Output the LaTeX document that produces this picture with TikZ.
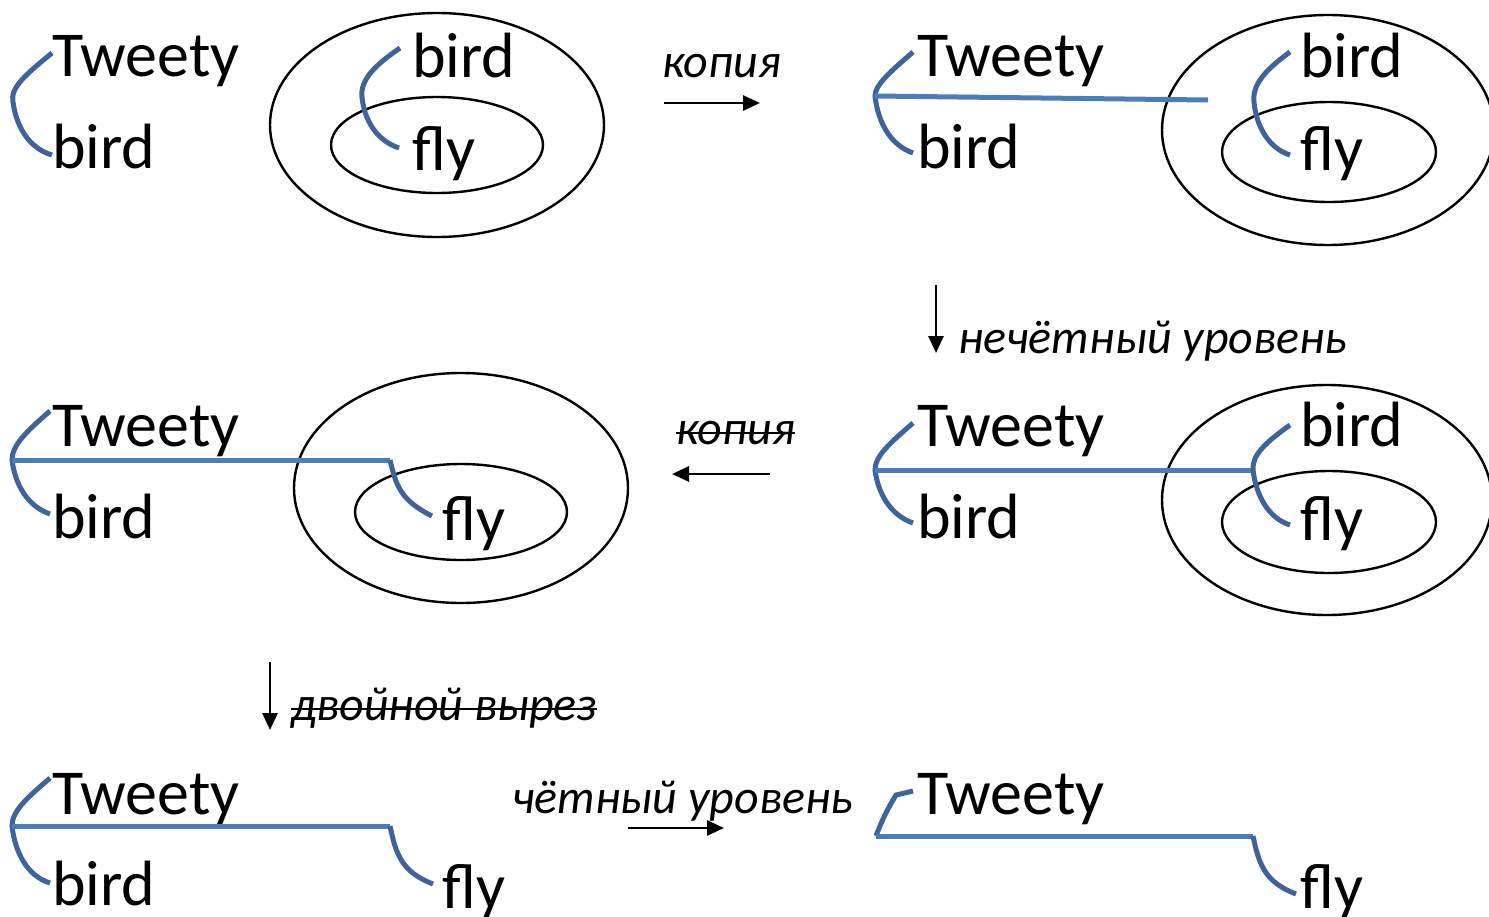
\documentclass[tikz,border=0pt]{standalone}
\usepackage{fontspec}
\setmainfont{Carlito}
\usetikzlibrary{arrows.meta}
\definecolor{hookc}{RGB}{62,100,154}
\definecolor{linec}{RGB}{74,126,187}
\tikzset{
  lbl/.style={anchor=base west,inner sep=0pt,font=\fontsize{64}{64}\selectfont},
  captxt/.style={anchor=base west,inner sep=0pt,font=\fontsize{48}{48}\selectfont\itshape},
  hook/.style={draw=hookc,line width=5pt},
  bar/.style={draw=linec,line width=5pt},
  ell/.style={draw=black,line width=2.4pt},
  arr/.style={draw=black,line width=2.8pt,-{Triangle[length=17pt,width=15pt]}},
  strike/.style={draw=black,line width=2.8pt}
}
\begin{document}
\begin{tikzpicture}[x=1pt,y=-1pt]
\useasboundingbox (0,0) rectangle (1489,916);
\clip (0,0) rectangle (1489,916);
% ---------- panel 1 ----------
\node[lbl] (tw1) at (52,76) {Tweety};
\node[lbl] (bd1) at (52,168) {bird};
\draw[ell] (437,125) ellipse [x radius=167,y radius=112];
\draw[ell] (437,145) ellipse [x radius=106,y radius=48];
\node[lbl] (ib1) at (412,77) {bird};
\node[lbl] (if1) at (412,170) {fly};
\coordinate (a1) at (52,53);
\coordinate (b1) at (52,155);
\draw[hook] (a1) .. controls (25,75) and (10,88) .. (13,102) .. controls (16,125) and (28,148) .. (b1);
\coordinate (c1) at (400,48);
\coordinate (d1) at (399,148);
\draw[hook] (c1) .. controls (375,65) and (360,80) .. (362,97) .. controls (364,118) and (375,140) .. (d1);
% arrow kopiya
\node[captxt] (k1) at (662,77) {копия};
\coordinate (p1) at (664,103);
\coordinate (q1) at (760,103);
\draw[arr] (p1) -- (q1);
% ---------- panel 2 ----------
\node[lbl] (tw2) at (917,76) {Tweety};
\node[lbl] (bd2) at (917,168) {bird};
\draw[ell] (1328,130) ellipse [x radius=166,y radius=115];
\draw[ell] (1329,152) ellipse [x radius=107,y radius=50];
\node[lbl] (ib2) at (1300,77) {bird};
\node[lbl] (if2) at (1300,170) {fly};
\coordinate (a2) at (913,52);
\coordinate (m2) at (875,96);
\coordinate (b2) at (913,153);
\coordinate (e2) at (1208,100);
\draw[hook] (a2) .. controls (890,72) and (875,85) .. (m2) .. controls (878,122) and (890,145) .. (b2);
\draw[bar] (m2) -- (e2);
\coordinate (c2) at (1290,52);
\coordinate (d2) at (1290,155);
\draw[hook] (c2) .. controls (1265,70) and (1252,85) .. (1254,102) .. controls (1256,125) and (1268,148) .. (d2);
% arrow down odd level
\coordinate (p2) at (936,285);
\coordinate (q2) at (936,353);
\draw[arr] (p2) -- (q2);
\node[captxt] (n2) at (958,353) {нечётный уровень};
% ---------- panel 3 ----------
\node[lbl] (tw3) at (917,446) {Tweety};
\node[lbl] (bd3) at (917,538) {bird};
\draw[ell] (1327,500) ellipse [x radius=165,y radius=115];
\draw[ell] (1329,522) ellipse [x radius=107,y radius=51];
\node[lbl] (ib3) at (1300,446) {bird};
\node[lbl] (if3) at (1300,540) {fly};
\coordinate (a3) at (913,423);
\coordinate (m3) at (875,470);
\coordinate (b3) at (913,523);
\coordinate (e3) at (1253,470);
\draw[hook] (a3) .. controls (890,443) and (875,456) .. (m3) .. controls (878,493) and (890,515) .. (b3);
\draw[bar] (m3) -- (e3);
\coordinate (c3) at (1290,425);
\coordinate (d3) at (1290,525);
\draw[hook] (c3) .. controls (1265,443) and (1252,455) .. (e3) .. controls (1256,495) and (1268,518) .. (d3);
% arrow left kopiya struck
\node[captxt] (k3) at (676,444) {копия};
\draw[strike] ([yshift=11pt]k3.base west) -- ([yshift=11pt]k3.base east);
\coordinate (p3) at (770,474);
\coordinate (q3) at (672,474);
\draw[arr] (p3) -- (q3);
% ---------- panel 4 ----------
\node[lbl] (tw4) at (52,446) {Tweety};
\node[lbl] (bd4) at (52,538) {bird};
\draw[ell] (461,488) ellipse [x radius=167,y radius=115];
\draw[ell] (461,512) ellipse [x radius=106,y radius=48];
\node[lbl] (if4) at (442,540) {fly};
\coordinate (a4) at (50,411);
\coordinate (m4) at (12,460);
\coordinate (b4) at (50,514);
\coordinate (e4) at (390,460);
\coordinate (f4) at (432,516);
\draw[hook] (a4) .. controls (27,431) and (12,445) .. (m4) .. controls (15,484) and (27,506) .. (b4);
\draw[bar] (m4) -- (e4);
\draw[hook] (e4) .. controls (396,485) and (400,500) .. (f4);
% arrow down double cut struck
\coordinate (p4) at (270,662);
\coordinate (q4) at (270,730);
\draw[arr] (p4) -- (q4);
\node[captxt] (n4) at (291,720) {двойной вырез};
\draw[strike] ([yshift=11pt]n4.base west) -- ([yshift=11pt]n4.base east);
% ---------- panel 5 ----------
\node[lbl] (tw5) at (52,814) {Tweety};
\node[lbl] (bd5) at (52,905) {bird};
\node[lbl] (if5) at (442,908) {fly};
\coordinate (a5) at (50,778);
\coordinate (m5) at (12,826);
\coordinate (b5) at (50,883);
\coordinate (e5) at (390,826);
\coordinate (f5) at (433,884);
\draw[hook] (a5) .. controls (27,798) and (12,811) .. (m5) .. controls (15,852) and (27,876) .. (b5);
\draw[bar] (m5) -- (e5);
\draw[hook] (e5) .. controls (396,855) and (402,872) .. (f5);
% arrow even level
\node[captxt] (n5) at (512,813) {чётный уровень};
\coordinate (p5) at (628,828);
\coordinate (q5) at (724,828);
\draw[arr] (p5) -- (q5);
% ---------- panel 6 ----------
\node[lbl] (tw6) at (917,814) {Tweety};
\node[lbl] (if6) at (1300,908) {fly};
\coordinate (a6) at (913,791);
\coordinate (k6) at (896,795);
\coordinate (m6) at (876,836);
\coordinate (e6) at (1253,836);
\coordinate (f6) at (1296,894);
\draw[hook] (a6) -- (k6) .. controls (888,808) and (882,820) .. (m6);
\draw[bar] (m6) -- (e6);
\draw[hook] (e6) .. controls (1259,865) and (1265,882) .. (f6);
\end{tikzpicture}
\end{document}
